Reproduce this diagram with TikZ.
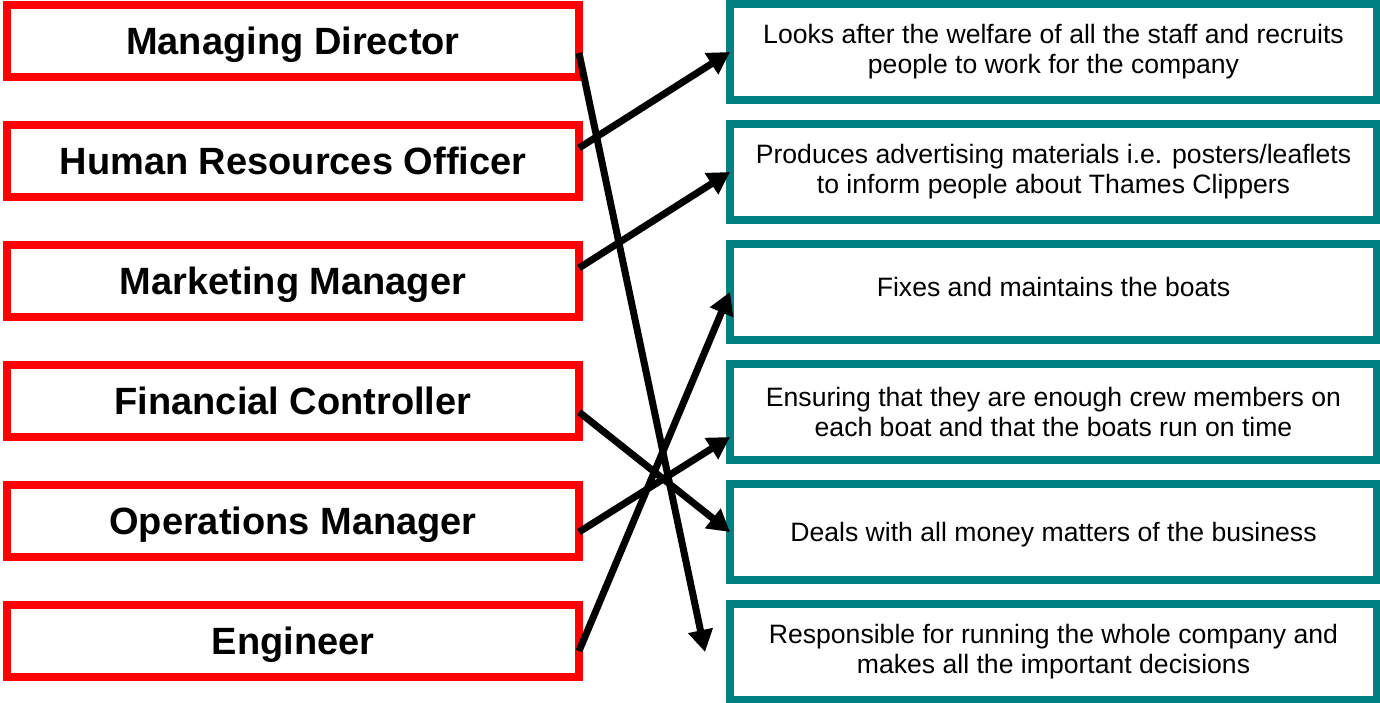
\documentclass[tikz,border=0pt]{standalone}
\usepackage{fontspec}
\setmainfont{Liberation Sans}
\usetikzlibrary{arrows.meta}
\definecolor{boxred}{RGB}{255,0,0}
\definecolor{boxteal}{RGB}{0,128,128}
\begin{document}
\begin{tikzpicture}[x=1pt,y=-1pt,
  rolebox/.style={draw=boxred, line width=8pt, minimum width=572pt, minimum height=72pt,
    inner sep=0pt, outer sep=0pt, text height=27.5pt, text depth=0pt,
    font=\fontsize{38}{44}\selectfont\bfseries},
  dutybox/.style={draw=boxteal, line width=8pt, minimum width=647pt, minimum height=96pt,
    inner sep=0pt, outer sep=0pt, align=center, font=\fontsize{26.6}{30}\selectfont},
  link/.style={line width=7pt, -{Triangle[length=22pt,width=24pt]}}]
\useasboundingbox (0,0) rectangle (1380,702);
% left: roles
\node[rolebox] (md) at (293,41)  {Managing Director};
\node[rolebox] (hr) at (293,161) {Human Resources Officer};
\node[rolebox] (mm) at (293,281) {Marketing Manager};
\node[rolebox] (fc) at (293,401) {Financial Controller};
\node[rolebox] (om) at (293,521) {Operations Manager};
\node[rolebox] (en) at (293,641) {Engineer};
% right: duties
\node[dutybox] (r1) at (1053.5,52)  {Looks after the welfare of all the staff and recruits\\people to work for the company};
\node[dutybox] (r2) at (1053.5,172) {Produces advertising materials i.e. posters/leaflets\\to inform people about Thames Clippers};
\node[dutybox, text depth=10pt] (r3) at (1053.5,292) {Fixes and maintains the boats};
\node[dutybox] (r4) at (1053.5,412) {Ensuring that they are enough crew members on\\each boat and that the boats run on time};
\node[dutybox, text height=25.4pt] (r5) at (1053.5,532) {Deals with all money matters of the business};
\node[dutybox] (r6) at (1053.5,652) {Responsible for running the whole company and\\makes all the important decisions};
\coordinate (mdend) at (705,652);
% connectors
\draw[link] ([yshift=-12pt]md.east) -- (mdend);
\draw[link] ([yshift=13pt]hr.east) -- (r1.west);
\draw[link] ([yshift=13pt]mm.east) -- (r2.west);
\draw[link] ([yshift=-11pt]fc.east) -- (r5.west);
\draw[link] ([yshift=-11pt]om.east) -- ([yshift=-25pt]r4.west);
\draw[link] ([yshift=-10pt]en.east) -- (r3.west);
\end{tikzpicture}
\end{document}
